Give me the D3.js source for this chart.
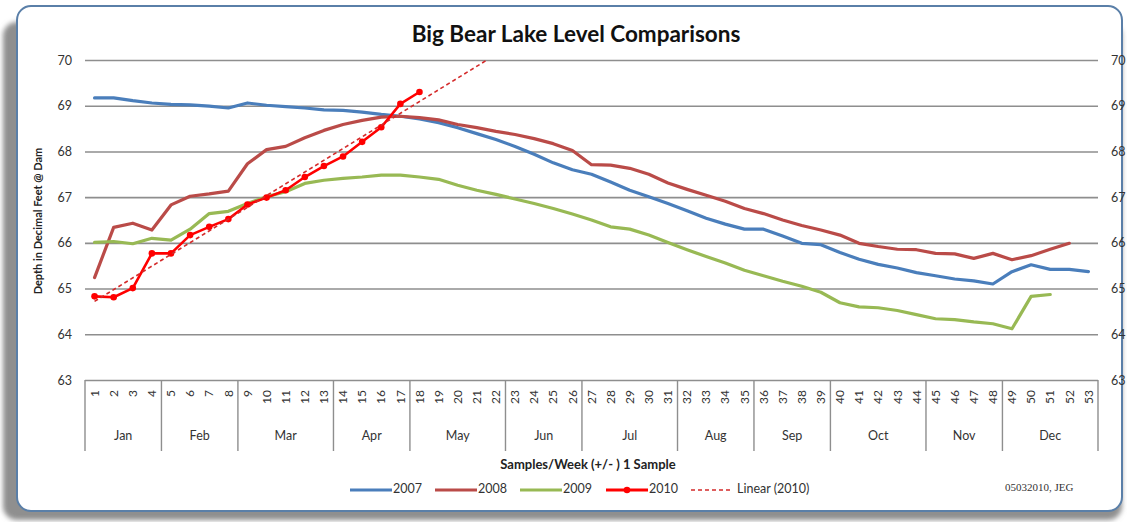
<!DOCTYPE html>
<html>
<head>
<meta charset="utf-8">
<script src="https://cdn.jsdelivr.net/npm/d3@7"></script>
<style>
  html, body { margin: 0; padding: 0; background: #ffffff; }
  svg { display: block; font-family: Lato, "Open Sans", sans-serif; }
</style>
</head>
<body>
<svg id="chart" width="1127" height="522"></svg>
<script>
// ---------- DATA ----------
const weeks = [1,2,3,4,5,6,7,8,9,10,11,12,13,14,15,16,17,18,19,20,21,22,23,24,25,26,27,28,29,30,31,32,33,34,35,36,37,38,39,40,41,42,43,44,45,46,47,48,49,50,51,52,53];
const months = ["Jan","Feb","Mar","Apr","May","Jun","Jul","Aug","Sep","Oct","Nov","Dec"];
const monthWeekCounts = [4,4,5,4,5,4,5,4,4,5,4,5];
const yTicks = [63,64,65,66,67,68,69,70];

const y2007 = [69.17,69.17,69.11,69.06,69.03,69.02,68.99,68.95,69.06,69.01,68.98,68.95,68.91,68.90,68.86,68.81,68.77,68.71,68.63,68.52,68.39,68.26,68.11,67.94,67.75,67.60,67.50,67.33,67.15,67.01,66.86,66.70,66.54,66.41,66.30,66.30,66.15,65.99,65.96,65.79,65.64,65.53,65.45,65.35,65.28,65.21,65.17,65.10,65.37,65.52,65.42,65.42,65.37];
const y2008 = [65.24,66.34,66.43,66.28,66.83,67.02,67.07,67.13,67.73,68.04,68.11,68.30,68.46,68.59,68.68,68.75,68.77,68.74,68.69,68.59,68.52,68.44,68.37,68.28,68.17,68.02,67.71,67.70,67.63,67.50,67.31,67.17,67.04,66.91,66.75,66.64,66.50,66.38,66.28,66.17,65.99,65.92,65.86,65.85,65.77,65.76,65.66,65.77,65.63,65.72,65.86,65.99,null];
const y2009 = [66.01,66.03,65.98,66.10,66.06,66.30,66.64,66.69,66.86,67.01,67.12,67.30,67.37,67.41,67.44,67.48,67.48,67.44,67.39,67.26,67.15,67.06,66.96,66.86,66.75,66.63,66.50,66.35,66.30,66.17,66.01,65.85,65.70,65.56,65.40,65.28,65.16,65.05,64.92,64.69,64.60,64.58,64.52,64.43,64.34,64.32,64.27,64.23,64.12,64.83,64.87,null,null];
const y2010 = [64.83,64.81,65.01,65.77,65.77,66.17,66.35,66.52,66.84,66.99,67.15,67.44,67.68,67.89,68.21,68.53,69.04,69.30];

const seriesNames = ["2007","2008","2009","2010","Linear (2010)"];
const seriesColors = ["#4A7EBB","#BA4B48","#98B954","#FF0000","#D42A2A"];

// ---------- LAYOUT ----------
const plot = { left: 85, right: 1098, top: 60, bottom: 380 };
const svg = d3.select("#chart");
const defs = svg.append("defs");

const blur = defs.append("filter").attr("id","blur").attr("x","-5%").attr("y","-5%").attr("width","110%").attr("height","110%");
blur.append("feGaussianBlur").attr("stdDeviation", 2.5);

defs.append("clipPath").attr("id","plotClip")
  .append("rect").attr("x", plot.left).attr("y", plot.top)
  .attr("width", plot.right - plot.left).attr("height", plot.bottom - plot.top);

// shadow + card
svg.append("rect").attr("x",3).attr("y",22).attr("width",1119).attr("height",498)
  .attr("rx",14).attr("fill","#8f8f8f").attr("filter","url(#blur)");
svg.append("rect").attr("x",17).attr("y",6).attr("width",1105).attr("height",505)
  .attr("rx",14).attr("fill","#ffffff").attr("stroke","#5A7FA8").attr("stroke-width",2);

// scales
const x = d3.scaleBand().domain(weeks).range([plot.left, plot.right]).padding(0);
const bw = x.bandwidth();
const cx = d => x(d) + bw / 2;
const y = d3.scaleLinear().domain([63,70]).range([plot.bottom, plot.top]);

// gridlines
const grid = svg.append("g").attr("transform",`translate(${plot.left},0)`)
  .call(d3.axisLeft(y).tickValues(yTicks).tickSize(-(plot.right - plot.left)).tickFormat(""));
grid.select(".domain").remove();
grid.selectAll("line").attr("stroke","#8E8E8E").attr("stroke-width",1.6);

// left axis labels
const la = svg.append("g").attr("transform",`translate(${plot.left},0)`)
  .call(d3.axisLeft(y).tickValues(yTicks).tickSize(0).tickPadding(13).tickFormat(d3.format("d")));
la.select(".domain").remove();
la.selectAll("text").attr("font-family","Lato, sans-serif").attr("font-size",12.5).attr("fill","#333");

// right axis labels
const ra = svg.append("g").attr("transform",`translate(${plot.right},0)`)
  .call(d3.axisRight(y).tickValues(yTicks).tickSize(0).tickPadding(13).tickFormat(d3.format("d")));
ra.select(".domain").remove();
ra.selectAll("text").attr("font-family","Lato, sans-serif").attr("font-size",12.5).attr("fill","#333");

// x axis week numbers (rotated)
const xa = svg.append("g").attr("transform",`translate(0,${plot.bottom})`)
  .call(d3.axisBottom(x).tickSize(0));
xa.select(".domain").remove();
xa.selectAll("text")
  .attr("transform","rotate(-90)")
  .attr("x",-10).attr("y",0).attr("dy","0.35em")
  .style("text-anchor","end")
  .attr("font-family","Lato, sans-serif").attr("font-size",12).attr("fill","#333");

// month separators and labels
let acc = 0;
const monthRanges = months.map((m,i) => {
  const start = weeks[acc];
  const end = weeks[acc + monthWeekCounts[i] - 1];
  acc += monthWeekCounts[i];
  return { name: m, x0: x(start), x1: x(end) + bw };
});
const sepXs = [monthRanges[0].x0].concat(monthRanges.map(r => r.x1));
svg.append("g").selectAll("line").data(sepXs).join("line")
  .attr("x1", d => d).attr("x2", d => d)
  .attr("y1", plot.bottom).attr("y2", 451)
  .attr("stroke","#8E8E8E").attr("stroke-width",1.4);
svg.append("g").selectAll("text").data(monthRanges).join("text")
  .attr("x", d => (d.x0 + d.x1) / 2).attr("y", 437)
  .attr("text-anchor","middle").attr("dominant-baseline","middle")
  .attr("font-family","Lato, sans-serif").attr("font-size",12.5).attr("fill","#333")
  .text(d => d.name);

// lines
const lineGen = d3.line().defined(d => d.v != null).x(d => cx(d.w)).y(d => y(d.v));
const toPts = arr => arr.map((v,i) => ({ w: weeks[i], v }));
const plotG = svg.append("g").attr("clip-path","url(#plotClip)");
[y2007, y2008, y2009].forEach((arr, i) => {
  plotG.append("path").datum(toPts(arr)).attr("d", lineGen)
    .attr("fill","none").attr("stroke", seriesColors[i]).attr("stroke-width",3.2)
    .attr("stroke-linejoin","round").attr("stroke-linecap","round");
});

// 2010 with markers
const pts10 = toPts(y2010);
plotG.append("path").datum(pts10).attr("d", lineGen)
  .attr("fill","none").attr("stroke", seriesColors[3]).attr("stroke-width",2.6)
  .attr("stroke-linejoin","round");
plotG.selectAll("circle.m10").data(pts10).join("circle").attr("class","m10")
  .attr("cx", d => cx(d.w)).attr("cy", d => y(d.v)).attr("r",3.3)
  .attr("fill", seriesColors[3]);

// linear trendline (least squares on the 2010 series, as Excel's "Linear" trendline)
const n = y2010.length;
const xs = weeks.slice(0, n);
const mx = d3.mean(xs), my = d3.mean(y2010);
const slope = d3.sum(xs.map((xv,i) => (xv - mx) * (y2010[i] - my))) / d3.sum(xs.map(xv => (xv - mx) ** 2));
const icpt = my - slope * mx;
const xEndVal = (70 - icpt) / slope;
const tx = v => plot.left + (v - 0.5) * bw;
plotG.append("line")
  .attr("x1", tx(xs[0])).attr("y1", y(icpt + slope * xs[0]))
  .attr("x2", tx(xEndVal + 0.3)).attr("y2", y(icpt + slope * (xEndVal + 0.3)))
  .attr("stroke", seriesColors[4]).attr("stroke-width",1.6).attr("stroke-dasharray","4,3");

// title
svg.append("text").attr("x",576).attr("y",42).attr("text-anchor","middle")
  .attr("font-family","Lato, sans-serif").attr("font-weight","bold").attr("font-size",22.5).attr("fill","#111")
  .text("Big Bear Lake Level Comparisons");

// y axis title
svg.append("text").attr("transform","translate(39,221) rotate(-90)").attr("text-anchor","middle")
  .attr("dominant-baseline","middle")
  .attr("font-family","Lato, sans-serif").attr("font-weight","bold").attr("font-size",11).attr("fill","#222")
  .text("Depth in Decimal Feet @ Dam");

// x axis title
svg.append("text").attr("x",588).attr("y",466).attr("text-anchor","middle").attr("dominant-baseline","middle")
  .attr("font-family","Lato, sans-serif").attr("font-weight","bold").attr("font-size",13).attr("fill","#222")
  .text("Samples/Week (+/- ) 1 Sample");

// legend
const legendXs = [350, 435, 520, 606, 691];
const lg = svg.append("g");
seriesNames.forEach((name, i) => {
  const g = lg.append("g").attr("transform",`translate(${legendXs[i]},490)`);
  g.append("line").attr("x1",0).attr("x2",42).attr("y1",0).attr("y2",0)
    .attr("stroke", seriesColors[i]).attr("stroke-width", i === 4 ? 1.6 : 3)
    .attr("stroke-dasharray", i === 4 ? "4,3" : null);
  if (i === 3) g.append("circle").attr("cx",21).attr("cy",0).attr("r",3.3).attr("fill",seriesColors[3]);
  g.append("text").attr("x", i === 4 ? 46 : 43).attr("y",0).attr("dominant-baseline","middle")
    .attr("font-family","Lato, sans-serif").attr("font-size",12.5).attr("fill","#333").text(name);
});

// footnote
svg.append("text").attr("x",1005).attr("y",488).attr("dominant-baseline","middle")
  .attr("font-family","'Liberation Serif', serif").attr("font-size",11).attr("fill","#333")
  .text("05032010, JEG");
</script>
</body>
</html>
